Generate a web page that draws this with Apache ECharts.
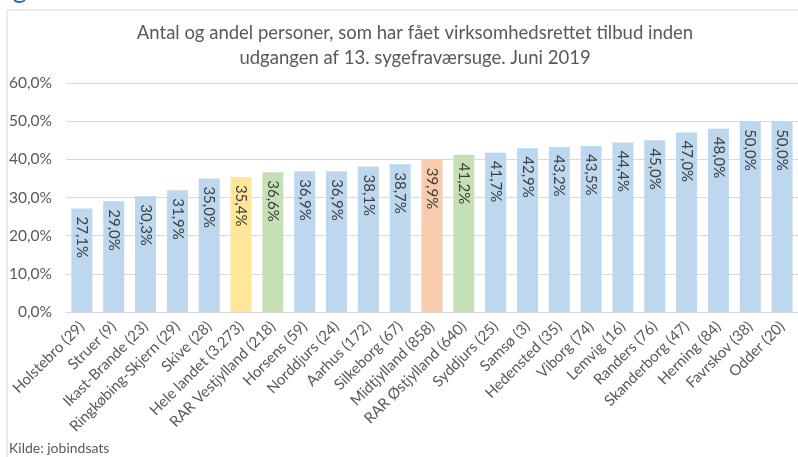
<!DOCTYPE html>
<html><head><meta charset="utf-8">
<script src="https://cdn.jsdelivr.net/npm/echarts@6/dist/echarts.min.js"></script>
<style>html,body{margin:0;padding:0;background:#fff}#c{width:798px;height:457px}</style>
</head><body><div id="c"></div>
<script>
const categories = ["Holstebro (29)","Struer (9)","Ikast-Brande (23)","Ringkøbing-Skjern (29)","Skive (28)","Hele landet (3.273)","RAR Vestjylland (218)","Horsens (59)","Norddjurs (24)","Aarhus (172)","Silkeborg (67)","Midtjylland (858)","RAR Østjylland (640)","Syddjurs (25)","Samsø (3)","Hedensted (35)","Viborg (74)","Lemvig (16)","Randers (76)","Skanderborg (47)","Herning (84)","Favrskov (38)","Odder (20)"];
const values = [27.1,29.0,30.3,31.9,35.0,35.4,36.6,36.9,36.9,38.1,38.7,39.9,41.2,41.7,42.9,43.2,43.5,44.4,45.0,47.0,48.0,50.0,50.0];
const highlight = {"Hele landet (3.273)":"#FFE699","RAR Vestjylland (218)":"#C5E0B4","Midtjylland (858)":"#F8CBAD","RAR Østjylland (640)":"#C5E0B4"};
const baseColor = "#BDD7EE";
const titleLines = ["Antal og andel personer, som har fået virksomhedsrettet tilbud inden","udgangen af 13. sygefraværsuge. Juni 2019"];
const source = "Kilde: jobindsats";
const FONT = "Lato";
const fmt = v => v.toFixed(1).replace('.', ',') + '%';

const chart = echarts.init(document.getElementById('c'), null, {renderer:'canvas'});
chart.setOption({
  animation:false,
  textStyle:{fontFamily:FONT},
  graphic:[
    {type:'rect', shape:{x:7,y:10,width:820,height:520}, style:{fill:'none',stroke:'#d9d9d9',lineWidth:1}, silent:true},
    {type:'text', left:-10, top:-25, style:{text:'Figur', fill:'#2E75B6', font:'28px '+FONT}},
    {type:'text', left:9, top:441, style:{text:source, fill:'#595959', font:'14px '+FONT}}
  ],
  title:{
    text: titleLines.join('\n'),
    left: 410, textAlign:'center', top: 16,
    textStyle:{fontFamily:FONT, fontSize:18.5, fontWeight:'normal', color:'#595959', lineHeight:25}
  },
  grid:{left:66, right:0, top:83, bottom:145, containLabel:false},
  xAxis:{
    type:'category', data:categories,
    axisLine:{lineStyle:{color:'#d9d9d9', width:1}},
    axisTick:{show:false},
    axisLabel:{rotate:45, interval:0, color:'#595959', fontSize:15, fontFamily:FONT, margin:12}
  },
  yAxis:{
    type:'value', min:0, max:60, interval:10,
    axisLine:{show:false}, axisTick:{show:false},
    splitLine:{lineStyle:{color:'#d9d9d9', width:1}},
    axisLabel:{formatter:v=>fmt(v), color:'#595959', fontSize:15.5, fontFamily:FONT, margin:14}
  },
  series:[{
    type:'bar', barWidth:'66%',
    data: values.map((v,i)=>({value:v, itemStyle:{color: highlight[categories[i]] || baseColor}})),
    label:{show:true, position:'insideTop', rotate:-90, align:'left', verticalAlign:'middle', distance:8,
      formatter:p=>fmt(p.value), color:'#404040', fontSize:15, fontFamily:FONT}
  }]
});
</script></body></html>
